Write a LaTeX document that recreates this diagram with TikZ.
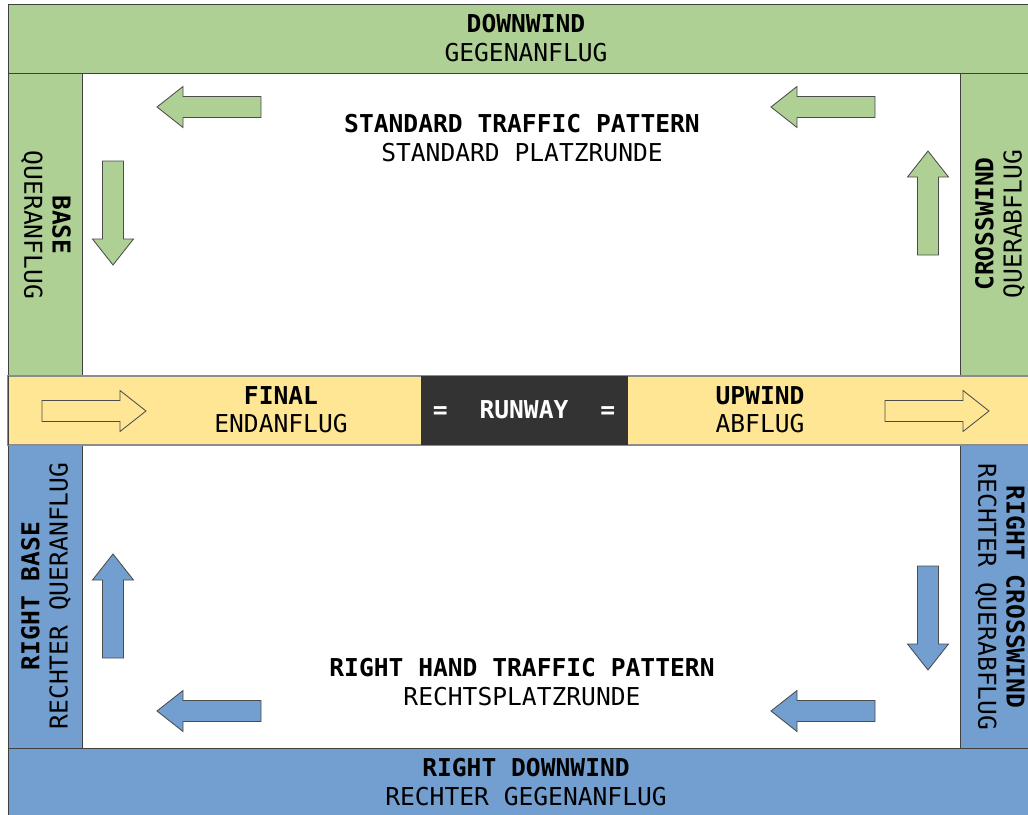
\documentclass[tikz,border=0pt]{standalone}
\usepackage{fontspec}
\setmainfont{DejaVu Sans Mono}
\definecolor{legGreen}{HTML}{AFD095}
\definecolor{legBlue}{HTML}{729FCF}
\definecolor{rwyYellow}{HTML}{FFE694}
\definecolor{rwyDark}{HTML}{333333}
\tikzset{
  leg/.style={draw=black!75,line width=0.6pt},
  lbl/.style={align=center,font=\fontsize{17.5}{20}\selectfont,inner sep=0pt},
  arr/.style={draw=black!70,line width=0.6pt,line join=miter},
}
% Blockpfeil: Stil, Ende x, Ende y, Richtung
\newcommand{\blockpfeil}[4]{%
  \draw[arr,#1,shift={(#2,#3)},rotate=#4]
    (0,-10.5) -- (78,-10.5) -- (78,-20.5) -- (104,0) -- (78,20.5) -- (78,10.5) -- (0,10.5) -- cycle;}
\begin{document}
\begin{tikzpicture}[x=0.025cm,y=-0.025cm]
\useasboundingbox (0,0) rectangle (1028,815);
% Platzrunde (links)
\fill[white] (82,73) rectangle (960,376);
\draw[leg,fill=legGreen] (8,4) rectangle (1032,73);
\draw[leg,fill=legGreen] (8,73) rectangle (82,376);
\draw[leg,fill=legGreen] (960,73) rectangle (1032,376);
% Platzrunde (rechts)
\draw[leg,fill=legBlue] (8,445) rectangle (82,748);
\draw[leg,fill=legBlue] (960,445) rectangle (1032,748);
\draw[leg,fill=legBlue] (8,748) rectangle (1032,820);
% Bahn
\draw[draw=black!45,line width=0.8pt,fill=rwyYellow] (8,376) rectangle (1032,445);
\draw[black!75,line width=0.6pt] (8,376) -- (8,445);
\fill[rwyDark] (421,376) rectangle (628,445);
% Beschriftung
\node[lbl] (downwind) at (526,38) {\textbf{DOWNWIND}\\GEGENANFLUG};
\node[lbl] (std) at (522,138) {\textbf{STANDARD TRAFFIC PATTERN}\\STANDARD PLATZRUNDE};
\node[lbl,rotate=-90] (base) at (46,225) {\textbf{BASE}\\QUERANFLUG};
\node[lbl,rotate=90] (cross) at (1000,224) {\textbf{CROSSWIND}\\QUERABFLUG};
\node[lbl] (final) at (281,410) {\textbf{FINAL}\\ENDANFLUG};
\node[lbl,text=white] (rwy) at (524,410) {\textbf{=}\hspace{1.3em}\textbf{RUNWAY}\hspace{1.3em}\textbf{=}};
\node[lbl] (upwind) at (760,410) {\textbf{UPWIND}\\ABFLUG};
\node[lbl,rotate=90] (rbase) at (46,596) {\textbf{RIGHT BASE}\\RECHTER QUERANFLUG};
\node[lbl,rotate=-90] (rcross) at (1000,597) {\textbf{RIGHT CROSSWIND}\\RECHTER QUERABFLUG};
\node[lbl] (rhand) at (522,682) {\textbf{RIGHT HAND TRAFFIC PATTERN}\\RECHTSPLATZRUNDE};
\node[lbl] (rdown) at (526,782) {\textbf{RIGHT DOWNWIND}\\RECHTER GEGENANFLUG};
% Pfeile
\blockpfeil{fill=legGreen}{261}{107}{180}
\blockpfeil{fill=legGreen}{875}{107}{180}
\blockpfeil{fill=legGreen}{113}{161}{270}
\blockpfeil{fill=legGreen}{928}{255}{90}
\blockpfeil{fill=rwyYellow}{42}{411}{0}
\blockpfeil{fill=rwyYellow}{885}{411}{0}
\blockpfeil{fill=legBlue}{113}{658}{90}
\blockpfeil{fill=legBlue}{928}{566}{270}
\blockpfeil{fill=legBlue}{261}{711}{180}
\blockpfeil{fill=legBlue}{875}{711}{180}
\end{tikzpicture}
\end{document}
